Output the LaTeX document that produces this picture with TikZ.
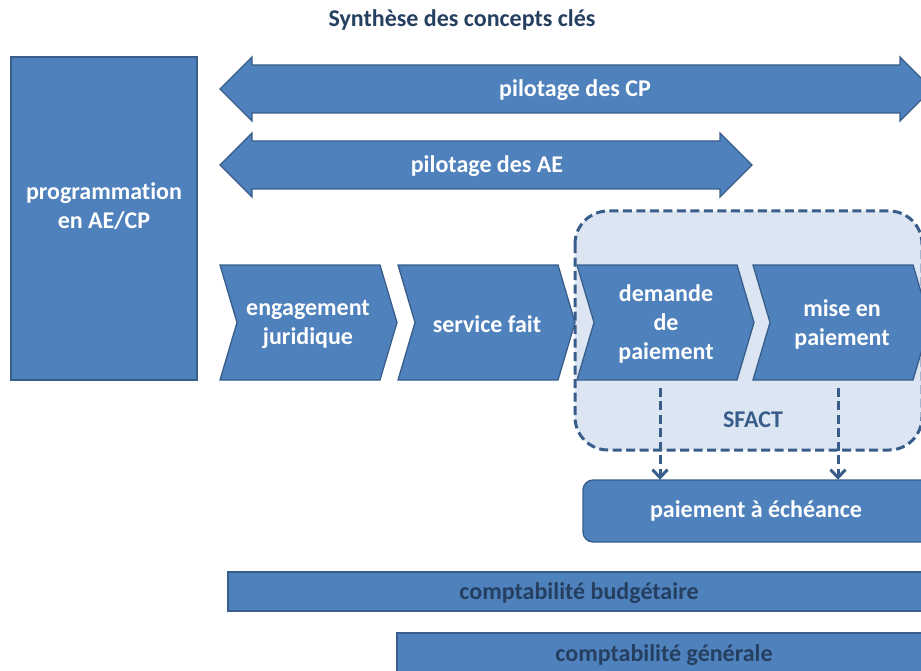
\documentclass[tikz,border=0pt]{standalone}
\usepackage{fontspec}
\setmainfont{Carlito}[Ligatures=NoCommon]
\usetikzlibrary{arrows.meta}

\definecolor{boxblue}{HTML}{4F81BD}
\definecolor{edgeblue}{HTML}{385D8A}
\definecolor{paleblue}{HTML}{DCE6F2}
\definecolor{darktext}{HTML}{243F60}

\tikzset{
  block/.style={fill=boxblue, draw=edgeblue, line width=1.3pt},
  txt/.style={text=white, font=\bfseries\fontsize{24}{29}\selectfont, align=center, inner sep=0pt},
  dashline/.style={draw=edgeblue, line width=3pt, dash pattern=on 9pt off 4.5pt},
  downarrow/.style={dashline, -{Straight Barb[length=8pt,width=15pt,line width=3pt]}},
}

\begin{document}
\begin{tikzpicture}[x=1pt,y=-1pt]
  \useasboundingbox (0,0) rectangle (921,671);
  \clip (0,0) rectangle (921,671);
  \node[txt, text=darktext] (title) at (462,20) {Synthèse des concepts clés};

  % programmation
  \draw[block] (11,57) rectangle (197,380);
  \node[txt] (prog) at (104,206) {programmation\\en AE/CP};

  % pilotage
  \draw[block] (220,89) -- (252,57) -- (252,65) -- (900,65) -- (900,57) -- (932,89)
    -- (900,121) -- (900,113) -- (252,113) -- (252,121) -- cycle;
  \node[txt] (cp) at (575,90) {pilotage des CP};
  \draw[block] (220,165) -- (252,133) -- (252,141) -- (720,141) -- (720,133) -- (752,165)
    -- (720,197) -- (720,189) -- (252,189) -- (252,197) -- cycle;
  \node[txt] (ae) at (487,166) {pilotage des AE};

  % SFACT
  \draw[dashline, fill=paleblue, rounded corners=33pt] (575,211) rectangle (922,450);
  \node[txt, text=edgeblue] (sfact) at (753,420) {SFACT};

  % chaine de la depense
  \foreach \x in {220,398,577,753}
    \draw[block] (\x,265) -- (\x+160,265) -- (\x+177,322.5) -- (\x+160,380) -- (\x,380)
      -- (\x+17,322.5) -- cycle;
  \node[txt, minimum height=115pt] (ej) at (308,324) {engagement\\juridique};
  \node[txt, minimum height=115pt] (sf) at (487,324) {service fait};
  \node[txt, minimum height=115pt] (dp) at (666,324) {demande\\de\\paiement};
  \node[txt, minimum height=115pt] (mep) at (842,324) {mise en\\paiement};

  % paiement
  \draw[block, rounded corners=10pt] (583,480) rectangle (940,542);
  \node[txt, minimum height=62pt] (pae) at (756,511) {paiement à échéance};
  \draw[downarrow] ([xshift=-6pt,yshift=-6pt]dp.south) -- ([xshift=-6pt]dp.south |- pae.north);
  \draw[downarrow] ([xshift=-4pt,yshift=-6pt]mep.south) -- ([xshift=-4pt]mep.south |- pae.north);

  % comptabilites
  \draw[block] (228,572) rectangle (940,611);
  \node[txt, text=darktext] (cb) at (579,593) {comptabilité budgétaire};
  \draw[block] (397,633) rectangle (940,700);
  \node[txt, text=darktext] (cg) at (664,655) {comptabilité générale};
\end{tikzpicture}
\end{document}
